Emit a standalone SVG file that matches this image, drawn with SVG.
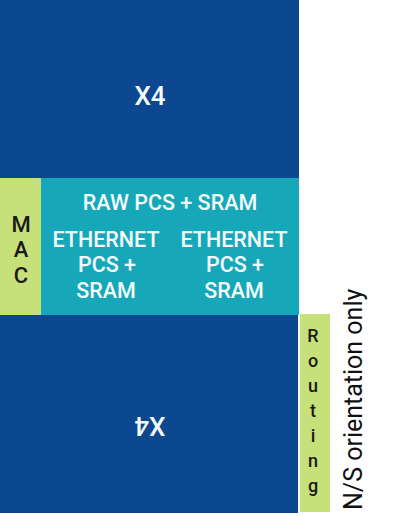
<svg xmlns="http://www.w3.org/2000/svg" width="400" height="516" viewBox="0 0 400 516">
<style>
.blue{fill:#0C4890}
.teal{fill:#16A8B8}
.green{fill:#C6E07A}
.w{fill:#F4FAFB;font-family:Roboto,"Liberation Sans",sans-serif;font-weight:500;text-anchor:middle}
.k{fill:#1A1A1A;font-family:Roboto,"Liberation Sans",sans-serif;font-weight:500;text-anchor:middle}
</style>
<rect width="400" height="516" fill="#FFFFFF"/>
<g id="x4-top">
<rect class="blue" x="0" y="0" width="299" height="178"/>
<text class="w" x="150" y="105" font-size="26">X4</text>
</g>
<g id="x4-bottom">
<rect class="blue" x="0" y="315" width="298" height="198"/>
<text class="w" font-size="26" transform="translate(150,417) rotate(180)">X4</text>
</g>
<g id="pcs">
<rect class="teal" x="41" y="178" width="258" height="137"/>
<text class="w" x="170" y="210" font-size="21.5">RAW PCS + SRAM</text>
<text class="w" x="106" y="247" font-size="21.5">ETHERNET</text>
<text class="w" x="107" y="272" font-size="21.5">PCS +</text>
<text class="w" x="106" y="298" font-size="21.5">SRAM</text>
<text class="w" x="234" y="247" font-size="21.5">ETHERNET</text>
<text class="w" x="235" y="272" font-size="21.5">PCS +</text>
<text class="w" x="234" y="298" font-size="21.5">SRAM</text>
</g>
<g id="mac">
<rect class="green" x="0" y="178" width="41" height="137"/>
<text class="k" x="21" y="232" font-size="22">M</text>
<text class="k" x="21" y="257" font-size="22">A</text>
<text class="k" x="21" y="283" font-size="22">C</text>
</g>
<g id="routing">
<rect class="green" x="300" y="314" width="30" height="198"/>
<text class="k" x="313" y="342" font-size="18">R</text>
<text class="k" x="313" y="367" font-size="18">o</text>
<text class="k" x="313" y="392" font-size="18">u</text>
<text class="k" x="313" y="417" font-size="18">t</text>
<text class="k" x="313" y="442" font-size="18">i</text>
<text class="k" x="313" y="467" font-size="18">n</text>
<text class="k" x="313" y="492" font-size="18">g</text>
</g>
<g id="note">
<text font-family="Roboto,'Liberation Sans',sans-serif" font-size="25" fill="#111111" transform="translate(362,510) rotate(-90)">N/S orientation only</text>
</g>
<g id="connectors"></g>
</svg>
